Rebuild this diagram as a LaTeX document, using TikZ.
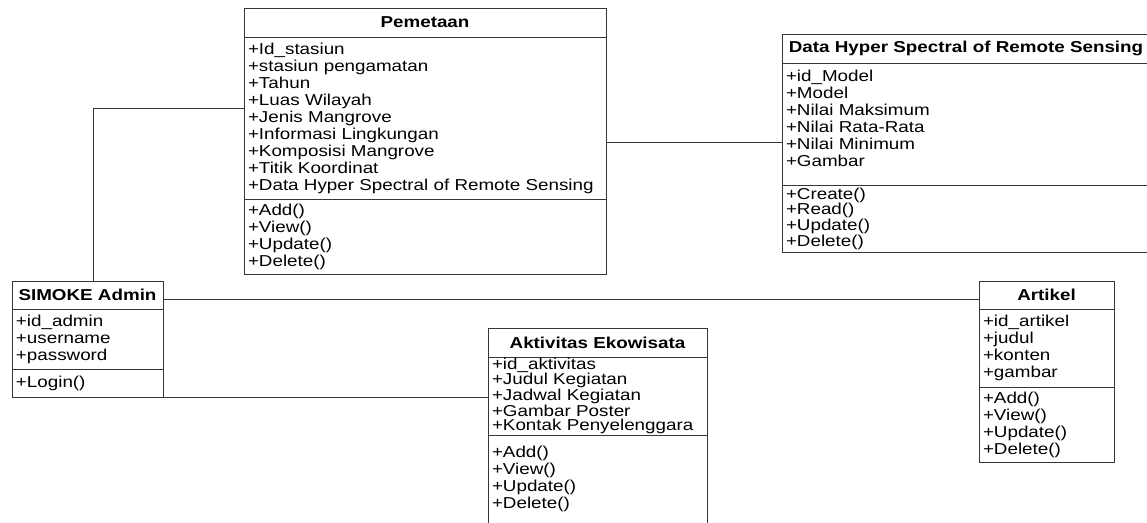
\documentclass[tikz,border=0pt]{standalone}
\usepackage{fontspec}
\setmainfont{Liberation Sans}[FakeStretch=1.19]
\definecolor{umlgray}{RGB}{55,55,55}

\begin{document}
\begin{tikzpicture}[x=1pt,y=-1pt]

%
% Styles
%
\tikzstyle{box}  = [rectangle,draw=umlgray,line width=1pt,anchor=north west,inner xsep=4pt,inner ysep=0pt,outer sep=0pt]
\tikzstyle{head} = [box,align=center,font=\fontsize{15.8}{17}\selectfont\bfseries]
\tikzstyle{list} = [box,align=left,font=\fontsize{15.8}{17}\selectfont]
\tikzstyle{conn} = [draw=umlgray,line width=1pt]

\useasboundingbox (0,0) rectangle (1147,522);

% Pemetaan
\node[head,minimum width=362pt,text width=354pt,minimum height=29pt]  (pemetaan)     at (244,  8) {Pemetaan};
\node[list,minimum width=362pt,text width=354pt,minimum height=162pt] (pemetaanattr) at (244, 37)
  {+Id\_stasiun\\+stasiun pengamatan\\+Tahun\\+Luas Wilayah\\+Jenis Mangrove\\+Informasi Lingkungan\\+Komposisi Mangrove\\+Titik Koordinat\\+Data Hyper Spectral of Remote Sensing};
\node[list,minimum width=362pt,text width=354pt,minimum height=75pt]  (pemetaanop)   at (244,199) {+Add()\\+View()\\+Update()\\+Delete()};

% Data Hyper Spectral
\node[head,minimum width=368pt,text width=360pt,minimum height=29pt]  (datahyper)     at (782, 34) {Data Hyper Spectral of Remote Sensing};
\node[list,minimum width=368pt,text width=360pt,minimum height=122pt,text depth=97pt] (datahyperattr) at (782, 63)
  {+id\_Model\\+Model\\+Nilai Maksimum\\+Nilai Rata-Rata\\+Nilai Minimum\\+Gambar};
\node[list,minimum width=368pt,text width=360pt,minimum height=67pt,font=\fontsize{15.8}{14}\selectfont] (datahyperop) at (782,185)
  {+Create()\\+Read()\\+Update()\\+Delete()};

% SIMOKE Admin
\node[head,minimum width=151pt,text width=143pt,minimum height=28pt]  (admin)     at ( 12,281) {SIMOKE Admin};
\node[list,minimum width=151pt,text width=143pt,minimum height=60pt]  (adminattr) at ( 12,309) {+id\_admin\\+username\\+password};
\node[list,minimum width=151pt,text width=143pt,minimum height=28pt]  (adminop)   at ( 12,369) {+Login()};

% Aktivitas Ekowisata
\node[head,minimum width=219pt,text width=211pt,minimum height=29pt]  (aktivitas)     at (488,328) {Aktivitas Ekowisata};
\node[list,minimum width=219pt,text width=211pt,minimum height=78pt,font=\fontsize{15.8}{14.5}\selectfont] (aktivitasattr) at (488,357)
  {+id\_aktivitas\\+Judul Kegiatan\\+Jadwal Kegiatan\\+Gambar Poster\\+Kontak Penyelenggara};
\node[list,minimum width=219pt,text width=211pt,minimum height=88pt]  (aktivitasop)   at (488,435) {+Add()\\+View()\\+Update()\\+Delete()};

% Artikel
\node[head,minimum width=135pt,text width=127pt,minimum height=28pt]  (artikel)     at (979,281) {Artikel};
\node[list,minimum width=135pt,text width=127pt,minimum height=78pt]  (artikelattr) at (979,309) {+id\_artikel\\+judul\\+konten\\+gambar};
\node[list,minimum width=135pt,text width=127pt,minimum height=75pt]  (artikelop)   at (979,387) {+Add()\\+View()\\+Update()\\+Delete()};

% Associations
\draw[conn] ([xshift=5.5pt]admin.north) |- ([yshift=10pt]pemetaanattr.west);
\draw[conn] ([yshift=-24pt]pemetaanattr.east) -- ([yshift=-24pt]pemetaanattr.east -| datahyperattr.west);
\draw[conn] ([yshift=-4pt]admin.east) -- ([yshift=-4pt]artikel.west);
\draw[conn] (adminop.south east) -- (adminop.south east -| aktivitasattr.west);

\end{tikzpicture}
\end{document}
